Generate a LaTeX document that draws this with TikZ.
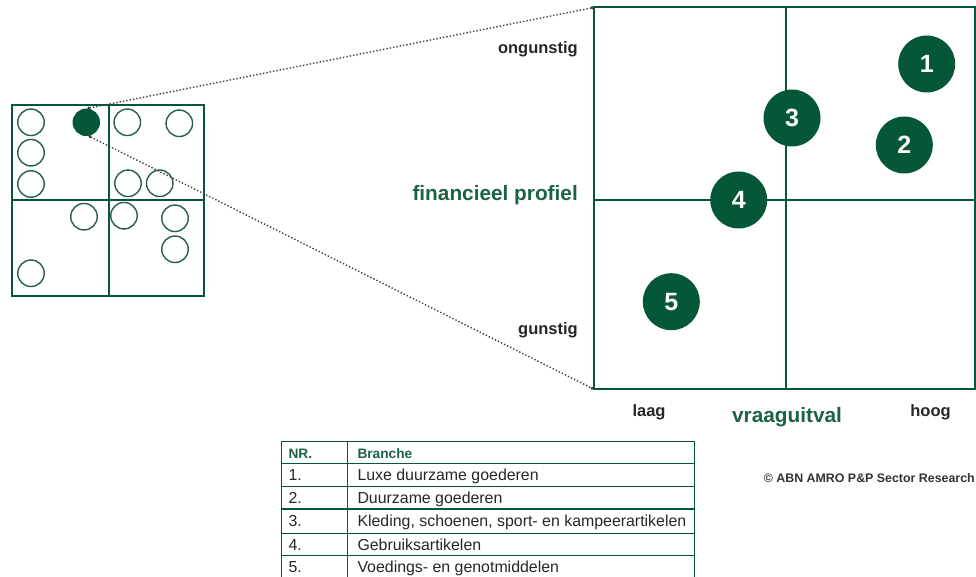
\documentclass[tikz,border=0pt]{standalone}
\usepackage{fontspec}
\setmainfont{Liberation Sans}
\usetikzlibrary{arrows.meta}
\definecolor{dg}{RGB}{4,88,56}
\definecolor{lg}{RGB}{28,98,68}
\definecolor{ringc}{RGB}{40,95,70}
\begin{document}
\begin{tikzpicture}[x=1pt,y=-1pt,
 bigdot/.style={circle,fill=dg,minimum size=57pt,inner sep=0pt,text=white,font=\bfseries\fontsize{25}{25}\selectfont},
 ring/.style={circle,draw=ringc,line width=1.4pt,minimum size=26.5pt,inner sep=0pt},
 lbl/.style={font=\bfseries\fontsize{16.5}{18}\selectfont,text=black!85,inner sep=0pt},
 axis/.style={font=\bfseries\fontsize{20.8}{23}\selectfont,text=lg,inner sep=0pt},
 cell/.style={font=\fontsize{15.9}{17}\selectfont,text=black!85,inner sep=0pt,anchor=base west},
 hcell/.style={font=\bfseries\fontsize{13.7}{15}\selectfont,text=lg,inner sep=0pt,anchor=base west},
 gridline/.style={draw=dg,line width=2pt},
 tabline/.style={draw=dg,line width=1.2pt},
 zoomline/.style={dotted,line width=1.4pt,draw=black!75,{Circle[length=2.8pt]}-{Circle[length=2.8pt]}}
]
\useasboundingbox (0,0) rectangle (976,577);

% small matrix
\draw[gridline,line width=2.3pt] (12.3,105) rectangle (204,296);
\draw[gridline,line width=2.3pt] (109.3,105) -- (109.3,296);
\draw[gridline,line width=2.3pt] (12.3,200.3) -- (204,200.3);
\node[ring] (s1) at (31,122.3) {};
\node[ring] (s2) at (31,152.7) {};
\node[ring] (s3) at (31,184) {};
\node[circle,fill=dg,minimum size=27.5pt,inner sep=0pt] (sf) at (86.3,122.3) {};
\node[ring] (s4) at (127.3,122.3) {};
\node[ring] (s5) at (179.3,123.3) {};
\node[ring] (s6) at (128,183.3) {};
\node[ring] (s7) at (159.7,183.3) {};
\node[ring] (s8) at (84,216.7) {};
\node[ring] (s9) at (124,215.7) {};
\node[ring] (s10) at (175,218.3) {};
\node[ring] (s11) at (175,249.3) {};
\node[ring] (s12) at (31,273.3) {};

% big matrix
\coordinate (BTL) at (593.5,7.5);
\coordinate (BBL) at (593.5,389);
\draw[gridline] (BTL) rectangle (975,389);
\draw[gridline] (786,7.5) -- (786,389);
\draw[gridline] (593.5,200) -- (975,200);

\draw[zoomline] (sf.85) -- (BTL);
\draw[zoomline] (sf.-80) -- (BBL);

\node[bigdot] (c1) at (926.7,64) {1};
\node[bigdot] (c2) at (904.3,145) {2};
\node[bigdot] (c3) at (792,118) {3};
\node[bigdot] (c4) at (738.7,200) {4};
\node[bigdot] (c5) at (671.3,301.7) {5};

% axis labels
\node[lbl,anchor=east] (ong) at (578,49) {ongunstig};
\node[axis,anchor=east] (fin) at (578,195.5) {financieel profiel};
\node[lbl,anchor=east] (gun) at (578,330) {gunstig};
\node[lbl] (laag) at (649,412.5) {laag};
\node[axis] (vra) at (787,417) {vraaguitval};
\node[lbl] (hoog) at (930.5,412) {hoog};
\node[font=\bfseries\fontsize{12.4}{14}\selectfont,text=black!80,inner sep=0pt,anchor=east] (copy) at (975,478.3) {© ABN AMRO P\&P Sector Research};

% table
\draw[tabline] (281.7,441.7) rectangle (694.3,580);
\draw[tabline] (347.7,441.7) -- (347.7,580);
\foreach \yy in {463.3,486.7,509,533.3,555.7} \draw[tabline] (281.7,\yy) -- (694.3,\yy);
\node[hcell] (h1) at (288.3,458.2) {NR.};
\node[hcell] (h2) at (357.3,458.2) {Branche};
\node[cell] (n1) at (288.3,480.7) {1.};
\node[cell] (b1) at (357.3,480.7) {Luxe duurzame goederen};
\node[cell] (n2) at (288.3,503.6) {2.};
\node[cell] (b2) at (357.3,503.6) {Duurzame goederen};
\node[cell] (n3) at (288.3,526.8) {3.};
\node[cell] (b3) at (357.3,526.8) {Kleding, schoenen, sport- en kampeerartikelen};
\node[cell] (n4) at (288.3,550.1) {4.};
\node[cell] (b4) at (357.3,550.1) {Gebruiksartikelen};
\node[cell] (n5) at (288.3,572.7) {5.};
\node[cell] (b5) at (357.3,572.7) {Voedings- en genotmiddelen};
\end{tikzpicture}
\end{document}
